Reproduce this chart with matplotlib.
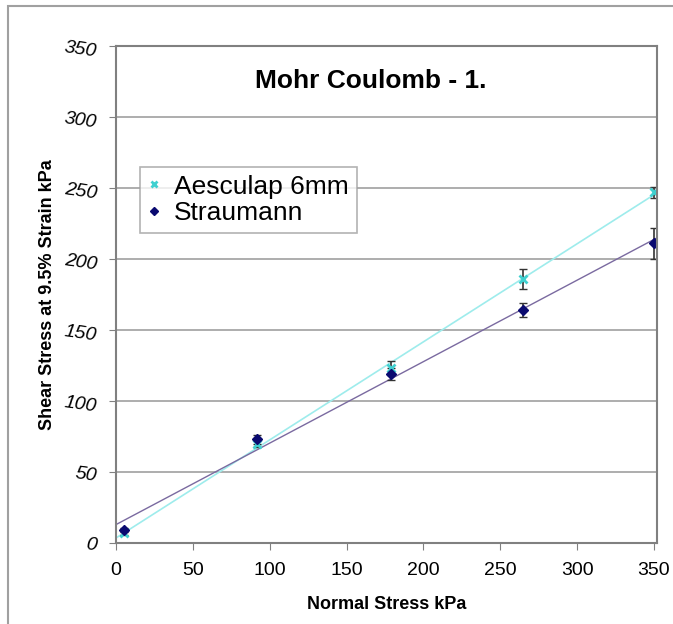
import numpy as np
import matplotlib
matplotlib.use("Agg")
import matplotlib.pyplot as plt
from matplotlib.patches import Rectangle

normal_stress = [5, 92, 179, 265, 350]
aesculap = [7, 70, 123, 186, 247]
aesculap_err = [1.5, 2.5, 5, 7, 4]
straumann = [9, 73, 119, 164, 211]
straumann_err = [1.5, 3, 4, 5, 11]
x_ticks = [0, 50, 100, 150, 200, 250, 300, 350]
y_ticks = [0, 50, 100, 150, 200, 250, 300, 350]

fig = plt.figure(figsize=(6.73, 6.24), dpi=100)
fig.patches.append(Rectangle((8/673, -0.05), 1.2, 1 - 6/624 + 0.05, transform=fig.transFigure,
                             fill=False, edgecolor='#a0a0a0', linewidth=1.5))
ax = fig.add_axes([116/673, 1 - 543/624, (657 - 116)/673, (543 - 46)/624])
ax.set_xlim(0, 352)
ax.set_ylim(0, 350)
ax.set_xticks(x_ticks)
ax.set_yticks(y_ticks)
ax.yaxis.grid(True, color='#a0a0a0', linewidth=1.2)
ax.set_axisbelow(True)
for s in ax.spines.values():
    s.set_color('#808080')
    s.set_linewidth(1.5)
ax.tick_params(axis='both', direction='out', length=5, color='#808080', labelsize=14)
ax.tick_params(axis='y', pad=8)
ax.tick_params(axis='x', pad=9)
for lab in ax.get_yticklabels():
    lab.set_fontstyle('italic')
    lab.set_rotation(-8)

xs = np.array(normal_stress)
xl = np.array([0, 352])
ca, ia = np.polyfit(xs, aesculap, 1)
cs, is_ = np.polyfit(xs, straumann, 1)
ax.plot(xl, ca * xl + ia, color='#9eecec', linewidth=1.2)
ax.plot(xl, cs * xl + is_, color='#7a6aa0', linewidth=1)

ax.errorbar(xs, aesculap, yerr=aesculap_err, fmt='none', ecolor='#333333', capsize=3, elinewidth=1.2)
ax.errorbar(xs, straumann, yerr=straumann_err, fmt='none', ecolor='#333333', capsize=3, elinewidth=1.2)
ax.plot(xs, aesculap, 'x', color='#40d0d0', markersize=6, mew=2, label='Aesculap 6mm')
ax.plot(xs, straumann, 'D', color='#0a0a70', markersize=5, label='Straumann')

leg = ax.legend(loc='upper left', bbox_to_anchor=(0.044, 0.757), frameon=True,
                prop={'family': 'Liberation Sans', 'size': 19}, borderaxespad=0,
                fancybox=False, edgecolor='#a0a0a0', handlelength=0.5, handletextpad=0.5,
                borderpad=0.3, labelspacing=0.1, markerscale=0.75)
leg.get_frame().set_linewidth(1.2)

ax.text(0.47, 0.93, 'Mohr Coulomb - 1.', transform=ax.transAxes, ha='center', va='center',
        fontsize=19, fontweight='bold', family='Liberation Sans')
ax.set_xlabel('Normal Stress kPa', fontsize=13, fontweight='bold', family='Liberation Sans', labelpad=12)
ax.set_ylabel('Shear Stress at 9.5% Strain kPa', fontsize=13, fontweight='bold', family='Liberation Sans', labelpad=5)
for lab in ax.get_xticklabels() + ax.get_yticklabels():
    lab.set_family('Liberation Sans')

fig.savefig('out.png', dpi=100)
